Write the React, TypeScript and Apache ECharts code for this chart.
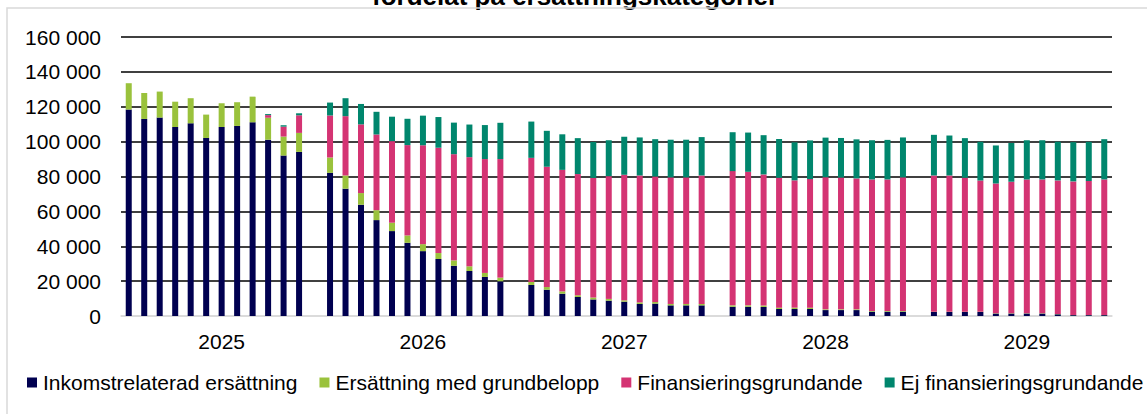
import React, { useEffect, useRef } from "react";
import * as echarts from "echarts";

const years = ["2025", "2026", "2027", "2028", "2029"];
const months = ["jan", "feb", "mar", "apr", "maj", "jun", "jul", "aug", "sep", "okt", "nov", "dec"];
const yTicks = [0, 20000, 40000, 60000, 80000, 100000, 120000, 140000, 160000];
const seriesNames = [
  "Inkomstrelaterad ersättning",
  "Ersättning med grundbelopp",
  "Finansieringsgrundande",
  "Ej finansieringsgrundande",
];
const colors = ["#000050", "#9AC23C", "#D43473", "#00866D"];

// monthly values per year, Jan..Dec
const inkomst = [
  [118400, 113000, 113800, 108400, 110500, 102100, 108400, 109000, 111100, 101100, 92000, 94100],
  [82100, 73000, 63800, 55000, 48700, 42000, 37200, 32700, 28800, 25800, 22400, 19900],
  [17800, 15100, 12800, 10900, 9500, 8800, 8200, 6900, 7100, 6100, 6100, 6100],
  [5300, 5300, 5200, 4000, 4000, 4000, 3400, 3400, 3400, 2500, 2500, 2500],
  [2300, 2300, 2300, 2300, 1400, 1400, 1400, 1400, 1000, 500, 500, 500],
];
const grundbelopp = [
  [15100, 14900, 14900, 14500, 14400, 13400, 13600, 13600, 14700, 12600, 10900, 10900],
  [8800, 7600, 6700, 5700, 4800, 4200, 4000, 3400, 3100, 2700, 2300, 2100],
  [1700, 1500, 1300, 1000, 1100, 1000, 800, 900, 900, 800, 800, 800],
  [800, 800, 800, 800, 800, 800, 400, 400, 400, 400, 400, 400],
  [200, 200, 200, 200, 200, 200, 200, 200, 150, 100, 100, 100],
];
const finansiering = [
  [0, 0, 0, 0, 0, 0, 0, 0, 0, 1500, 5700, 10100],
  [24100, 34000, 39400, 43400, 46800, 51800, 56700, 60400, 60900, 62600, 65300, 68000],
  [71200, 69000, 69700, 69500, 68600, 70400, 72000, 72800, 72000, 72600, 72600, 73700],
  [77000, 76600, 75200, 74500, 73000, 73700, 75800, 75600, 75100, 75400, 75400, 76600],
  [78100, 78100, 76800, 75200, 74400, 75400, 76700, 76700, 76600, 76600, 76800, 77700],
];
const ejFinansiering = [
  [0, 0, 0, 0, 0, 0, 0, 0, 0, 600, 800, 1150],
  [7400, 10300, 11700, 13000, 14000, 15100, 17000, 17600, 18100, 18700, 19500, 20800],
  [20800, 20600, 20400, 20600, 20600, 20600, 21800, 21800, 21400, 21600, 21600, 22000],
  [22300, 22500, 22500, 22200, 21800, 22200, 22700, 22700, 22400, 22500, 22700, 22900],
  [23300, 22900, 22700, 22200, 21800, 22200, 22500, 22500, 22200, 22500, 22500, 23100],
];

const FONT = "Arial, 'Liberation Sans', sans-serif";

export default function App() {
  const ref = useRef<HTMLDivElement>(null);
  useEffect(() => {
    document.body.style.margin = "0";
    if (!ref.current) return;
    const chart = echarts.init(ref.current, null, { renderer: "svg" });

    // categories: 12 months per year with an empty slot between years
    const categories: string[] = [];
    const yearLabelIndex: Record<number, string> = {};
    years.forEach((y, yi) => {
      months.forEach((m, mi) => {
        if (mi === 6) yearLabelIndex[categories.length] = y;
        categories.push(`${y}-${m}`);
      });
      if (yi < years.length - 1) categories.push(`gap-${yi}`);
    });
    const flatten = (arr: number[][]) => {
      const out: (number | null)[] = [];
      arr.forEach((row, yi) => {
        row.forEach((v) => out.push(v));
        if (yi < arr.length - 1) out.push(null);
      });
      return out;
    };
    const seriesData = [inkomst, grundbelopp, finansiering, ejFinansiering].map(flatten);

    const fmt = (v: number) => String(v).replace(/\B(?=(\d{3})+(?!\d))/g, " ");

    chart.setOption({
      animation: false,
      textStyle: { fontFamily: FONT },
      graphic: [
        {
          type: "text",
          x: 575,
          y: 9,
          style: {
            text: "fördelat på ersättningskategorier",
            fontFamily: FONT,
            fontSize: 26,
            fontWeight: "bold",
            fill: "#000",
            align: "center",
            verticalAlign: "bottom",
          },
        },
        {
          type: "rect",
          shape: { x: 7, y: 8, width: 1300, height: 600 },
          style: { fill: "none", stroke: "#d9d9d9", lineWidth: 1.5 },
          silent: true,
        },
      ],
      grid: { left: 121, right: 35, top: 37, bottom: 98, containLabel: false },
      legend: {
        data: seriesNames,
        left: 27,
        top: 372,
        width: 1120,
        padding: 0,
        itemWidth: 10,
        itemHeight: 10,
        itemGap: 22,
        icon: "rect",
        textStyle: { fontFamily: FONT, fontSize: 21, color: "#000", padding: [0, 0, 0, 1] },
      },
      xAxis: {
        type: "category",
        data: categories,
        axisLine: { show: true, lineStyle: { color: "#d9d9d9", width: 1.5 } },
        axisTick: { show: false },
        axisLabel: {
          interval: 0,
          margin: 15,
          color: "#000",
          fontSize: 21,
          fontFamily: FONT,
          formatter: (_v: string, idx: number) => yearLabelIndex[idx] || "",
        },
      },
      yAxis: {
        type: "value",
        min: yTicks[0],
        max: yTicks[yTicks.length - 1],
        interval: yTicks[1] - yTicks[0],
        axisLine: { show: false },
        axisTick: { show: false },
        axisLabel: { color: "#000", fontSize: 21, fontFamily: FONT, margin: 20, formatter: fmt },
        splitLine: {
          show: true,
          lineStyle: {
            color: yTicks.map((t) => (t === 0 ? "#d9d9d9" : "#000")),
            width: 1.5,
          },
        },
      },
      series: seriesNames.map((name, i) => ({
        name,
        type: "bar",
        stack: "total",
        barWidth: 6,
        data: seriesData[i],
        itemStyle: { color: colors[i] },
      })),
    });
    return () => chart.dispose();
  }, []);
  return <div ref={ref} style={{ width: 1147, height: 414 }} />;
}
